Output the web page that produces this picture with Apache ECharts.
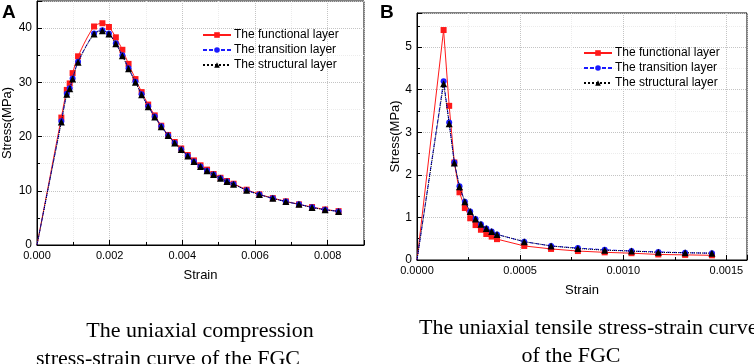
<!DOCTYPE html>
<html>
<head>
<meta charset="utf-8">
<script src="https://cdn.jsdelivr.net/npm/echarts@6/dist/echarts.min.js"></script>
<style>
html, body { margin: 0; padding: 0; background: #fff; }
#chart_container { width: 754px; height: 364px; }
</style>
</head>
<body>
<div id="chart_container"></div>
<script>
// stress-strain curves of the FGC, two panels

var seriesNames = ['The functional layer', 'The transition layer', 'The structural layer'];

// panel A - compression
var strainA = [0, 0.00067, 0.00082, 0.00090, 0.00098, 0.00113, 0.00157, 0.00180, 0.00198, 0.00217,
    0.00235, 0.00252, 0.00271, 0.00288, 0.00306, 0.00324, 0.00342, 0.00361, 0.00379, 0.00397,
    0.00415, 0.00432, 0.00450, 0.00468, 0.00486, 0.00505, 0.00523, 0.00541, 0.00577, 0.00612,
    0.00649, 0.00685, 0.00721, 0.00757, 0.00793, 0.00830];
var functionalA = [0, 23.5, 28.6, 29.8, 31.7, 34.8, 40.3, 40.9, 40.2, 38.3,
    36.0, 33.4, 30.6, 28.2, 25.9, 23.9, 22.0, 20.3, 19.0, 17.8,
    16.6, 15.6, 14.7, 13.9, 13.1, 12.4, 11.8, 11.3, 10.2, 9.35,
    8.65, 8.05, 7.5, 7.0, 6.55, 6.25];
var transitionA = [0, 22.8, 27.9, 28.9, 30.7, 33.8, 39.0, 39.6, 39.0, 37.2,
    35.0, 32.6, 30.1, 27.8, 25.6, 23.7, 21.9, 20.2, 18.8, 17.6,
    16.4, 15.4, 14.5, 13.7, 13.0, 12.3, 11.7, 11.2, 10.1, 9.3,
    8.6, 8.0, 7.5, 6.95, 6.5, 6.2];
var structuralA = [0, 22.7, 27.8, 28.8, 30.6, 33.7, 38.9, 39.5, 38.9, 37.1,
    34.9, 32.5, 30.0, 27.7, 25.5, 23.6, 21.8, 20.2, 18.8, 17.6,
    16.4, 15.4, 14.5, 13.7, 13.0, 12.3, 11.7, 11.2, 10.1, 9.3,
    8.6, 8.0, 7.5, 6.9, 6.5, 6.2];

// panel B - tension
var strainB = [0, 0.000129, 0.000156, 0.000181, 0.000206, 0.000232, 0.000258, 0.000284, 0.000310, 0.000336,
    0.000362, 0.000388, 0.00052, 0.00065, 0.00078, 0.00091, 0.00104, 0.00117, 0.00130, 0.00143];
var functionalB = [0, 5.40, 3.62, 2.29, 1.59, 1.22, 0.98, 0.82, 0.71, 0.61,
    0.55, 0.49, 0.33, 0.26, 0.21, 0.18, 0.16, 0.13, 0.12, 0.11];
var transitionB = [0, 4.20, 3.23, 2.29, 1.73, 1.37, 1.14, 0.96, 0.84, 0.74,
    0.67, 0.60, 0.43, 0.33, 0.28, 0.24, 0.21, 0.19, 0.17, 0.16];
var structuralB = [0, 4.14, 3.20, 2.28, 1.72, 1.37, 1.14, 0.96, 0.84, 0.74,
    0.67, 0.60, 0.43, 0.33, 0.27, 0.23, 0.21, 0.18, 0.17, 0.16];

var captionA = ['The uniaxial compression', 'stress-strain curve of the FGC'];
var captionB = ['The uniaxial tensile stress-strain curve', 'of the FGC'];


var sans = 'Liberation Sans, Arial, sans-serif';
var serif = 'Liberation Serif, Times New Roman, serif';

function pairs(xs, ys) {
    return xs.map(function (x, i) {
        // origin point has no marker
        if (i === 0) return { value: [x, ys[i]], symbol: 'none' };
        return [x, ys[i]];
    });
}

function valueAxis(gridIdx, min, max, interval, digits, name, gap, isX) {
    return {
        type: 'value',
        gridIndex: gridIdx,
        min: min, max: max, interval: interval,
        name: name,
        nameLocation: 'middle',
        nameGap: gap,
        nameTextStyle: { fontFamily: sans, fontSize: 13, color: '#000' },
        axisLine: { show: true, onZero: false, lineStyle: { color: '#000', width: 1 } },
        axisTick: { show: true, inside: true, length: 5, lineStyle: { color: '#000' } },
        minorTick: { show: true, splitNumber: 2, length: 3, lineStyle: { color: '#000' } },
        axisLabel: {
            fontFamily: sans, fontSize: isX ? 11 : 12, color: '#000', margin: 5,
            showMaxLabel: false,
            formatter: function (v) { return digits ? v.toFixed(digits) : String(v); }
        },
        splitLine: { show: true, lineStyle: { color: '#c4c4c4', type: 'dotted', width: 1 } },
        minorSplitLine: { show: true, lineStyle: { color: '#ececec', type: 'dotted', width: 1 } }
    };
}

var styles = [
    { color: '#ff1a1a', symbol: 'rect', size: 6, type: 'solid' },
    { color: '#1a1aff', symbol: 'circle', size: 6, type: [4, 2] },
    { color: '#000000', symbol: 'triangle', size: 7, type: 'dotted' }
];

function makeSeries(gridIdx, xs, ysList, smooth) {
    return ysList.map(function (ys, k) {
        var st = styles[k];
        return {
            name: seriesNames[k],
            type: 'line',
            xAxisIndex: gridIdx,
            yAxisIndex: gridIdx,
            data: pairs(xs, ys),
            smooth: smooth,
            symbol: st.symbol,
            symbolSize: st.size,
            showAllSymbol: true,
            color: st.color,
            lineStyle: { color: st.color, width: 1, type: st.type },
            itemStyle: { color: st.color },
            z: 2 + k
        };
    });
}

function legendAt(left, top) {
    return {
        orient: 'vertical',
        left: left, top: top,
        itemWidth: 28, itemHeight: 7, itemGap: 3,
        padding: 0,
        textStyle: { fontFamily: sans, fontSize: 12, color: '#000', padding: [0, 0, 0, -2] },
        data: seriesNames
    };
}

function caption(text, x, y, align) {
    return {
        type: 'text', x: x, y: y,
        style: {
            text: text, fill: '#000',
            font: '22px ' + serif,
            textAlign: align, textVerticalAlign: 'middle'
        }
    };
}

var chartDom = document.getElementById('chart_container');
var myChart = echarts.init(chartDom);

var opt = {
    animation: false,
    backgroundColor: '#fff',
    grid: [
        { left: 33, top: 1, width: 331, height: 244, show: true, borderColor: '#000', borderWidth: 1 },
        { left: 417, top: 13, width: 330, height: 247, show: true, borderColor: '#000', borderWidth: 1 }
    ],
    xAxis: [
        valueAxis(0, 0, 0.009, 0.002, 3, 'Strain', 24, true),
        valueAxis(1, 0, 0.0016, 0.0005, 4, 'Strain', 24, true)
    ],
    yAxis: [
        valueAxis(0, 0, 45, 10, 0, 'Stress(MPa)', 23, false),
        valueAxis(1, 0, 5.8, 1, 0, 'Stress(MPa)', 13, false)
    ],
    legend: [legendAt(202, 29), legendAt(583, 47)],
    series: makeSeries(0, strainA, [functionalA, transitionA, structuralA], 0.3)
        .concat(makeSeries(1, strainB, [functionalB, transitionB, structuralB], false)),
    graphic: [
        { type: 'text', x: 2, y: 3, style: { text: 'A', font: 'bold 19px ' + sans, fill: '#000' } },
        { type: 'text', x: 380, y: 3, style: { text: 'B', font: 'bold 19px ' + sans, fill: '#000' } },
        caption(captionA[0], 200, 331, 'center'),
        caption(captionA[1], 168, 359, 'center'),
        caption(captionB[0], 419, 328, 'left'),
        caption(captionB[1], 571, 356, 'center')
    ]
};

myChart.setOption(opt);
</script>
</body>
</html>
